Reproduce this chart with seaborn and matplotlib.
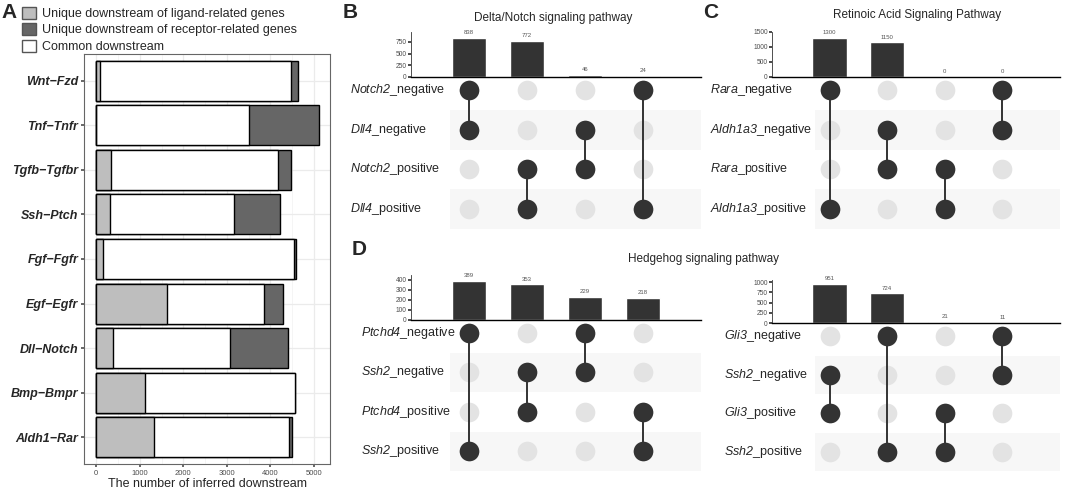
import matplotlib
matplotlib.use("Agg")
import matplotlib.pyplot as plt
import matplotlib.transforms as mtrans
from matplotlib.patches import Patch
import seaborn as sns
import pandas as pd

# ---- panel A: downstream genes per ligand-receptor pair ----
pairs = ["Wnt−Fzd", "Tnf−Tnfr", "Tgfb−Tgfbr", "Ssh−Ptch", "Fgf−Fgfr",
         "Egf−Egfr", "Dll−Notch", "Bmp−Bmpr", "Aldh1−Rar"]
ligand_only = [76, 0, 344, 328, 160, 1618, 389, 1115, 1336]
common = [4397, 3511, 3839, 2848, 4374, 2237, 2695, 3442, 3091]
receptor_only = [153, 1604, 290, 1038, 46, 427, 1313, 0, 77]

# ---- upset panels ----
notch_sets = ["Notch2_negative", "Dll4_negative", "Notch2_positive", "Dll4_positive"]
notch_members = [(0, 1), (2, 3), (1, 2), (0, 3)]
notch_counts = [838, 772, 46, 24]

ra_sets = ["Rara_negative", "Aldh1a3_negative", "Rara_positive", "Aldh1a3_positive"]
ra_members = [(0, 3), (1, 2), (2, 3), (0, 1)]
ra_counts = [1300, 1150, 0, 0]

hh_ptch_sets = ["Ptchd4_negative", "Ssh2_negative", "Ptchd4_positive", "Ssh2_positive"]
hh_ptch_members = [(0, 3), (1, 2), (0, 1), (2, 3)]
hh_ptch_counts = [389, 353, 229, 218]

hh_gli_sets = ["Gli3_negative", "Ssh2_negative", "Gli3_positive", "Ssh2_positive"]
hh_gli_members = [(1, 2), (0, 3), (2, 3), (0, 1)]
hh_gli_counts = [951, 724, 21, 11]

LIGHT = "#bebebe"
RECEP = "#666666"
DARK = "#333333"
W, H = 1065, 491

sns.set_theme(style="white")
plt.rcParams['font.family'] = ['Liberation Sans', 'DejaVu Sans']
plt.rcParams['mathtext.fontset'] = 'custom'
plt.rcParams['mathtext.it'] = 'Liberation Sans:italic'
plt.rcParams['mathtext.rm'] = 'Liberation Sans:italic'  # gene digits italic too

fig = plt.figure(figsize=(W / 100, H / 100), dpi=100)


def box(l, t, r, b):
    # pixel box -> figure fraction
    return [l / W, 1 - b / H, (r - l) / W, (b - t) / H]


# ---------------- A ----------------
df = pd.DataFrame({"pair": pairs, "ligand": ligand_only, "common": common, "receptor": receptor_only})
df["lig_end"] = df["ligand"]
df["com_end"] = df["ligand"] + df["common"]
df["total"] = df["com_end"] + df["receptor"]

axA = fig.add_axes(box(84, 54, 330, 464))
axA.set_axisbelow(True)
for v in range(0, 6000, 1000):
    axA.axvline(v, color="#ebebeb", lw=0.9, zorder=0)
for v in range(500, 6000, 1000):
    axA.axvline(v, color="#f4f4f4", lw=0.6, zorder=0)
for i in range(len(pairs)):
    axA.axhline(i, color="#ebebeb", lw=0.9, zorder=0)
for col, fill in [("total", RECEP), ("com_end", "white"), ("lig_end", LIGHT)]:
    sns.barplot(data=df, y="pair", x=col, order=pairs, color=fill, saturation=1,
                edgecolor="black", linewidth=1.0, width=0.9, errorbar=None, ax=axA)
axA.set_xlim(-280, 5370)
axA.set_ylim(len(pairs) - 0.4, -0.6)
axA.set_xticks(range(0, 6000, 1000))
axA.set_ylabel("")
axA.set_xlabel("The number of inferred downstream", fontsize=9, labelpad=1)
axA.tick_params(axis="x", labelsize=5.5, labelcolor="#4d4d4d", length=2.5, color="#555555", pad=1.5, bottom=True)
axA.tick_params(axis="y", labelsize=9, length=2.5, color="#555555", pad=1.5, left=True)
for lbl in axA.get_yticklabels():
    lbl.set_fontweight("bold")
    lbl.set_fontstyle("italic")
for s in axA.spines.values():
    s.set_color("#666666")
    s.set_linewidth(0.8)

handles = [Patch(facecolor=LIGHT, edgecolor="#555555", label="Unique downstream of ligand-related genes"),
           Patch(facecolor=RECEP, edgecolor="#555555", label="Unique downstream of receptor-related genes"),
           Patch(facecolor="white", edgecolor="#555555", label="Common downstream")]
fig.legend(handles=handles, loc="upper left", bbox_to_anchor=(19 / W, 1 - 4 / H), frameon=False,
           fontsize=9, handlelength=1.15, handleheight=1.15, handletextpad=0.5, labelspacing=0.25,
           borderaxespad=0, borderpad=0.2)
fig.text(1 / W, 1 - 3 / H, "A", fontsize=15, fontweight="bold", va="top", ha="left")


# ---------------- upset panels ----------------
def draw_upset(bar_px, mat_px, stripe_x0, label_x, sets, members, counts, yticks, ymax):
    l, t, r, b = bar_px
    axb = fig.add_axes(box(l, t, r, b))
    combos = ["c%d" % i for i in range(len(counts))]
    sns.barplot(x=combos, y=counts, color=DARK, saturation=1, width=0.6, errorbar=None, ax=axb)
    axb.bar_label(axb.containers[0], fontsize=4.3, color="#555555", padding=2)
    axb.set_xlim(-1, 4)
    axb.set_ylim(0, ymax)
    axb.set_yticks(yticks)
    axb.set_xticks([])
    axb.set_xlabel("")
    axb.set_ylabel("")
    axb.tick_params(axis="y", labelsize=4.8, labelcolor="#4d4d4d", length=2, color="#333333", pad=1, left=True)
    for side in ["top", "right"]:
        axb.spines[side].set_visible(False)
    axb.spines["left"].set_color("#333333")
    axb.spines["left"].set_linewidth(0.6)
    axb.spines["bottom"].set_color("black")
    axb.spines["bottom"].set_linewidth(1.0)

    mt, mb = mat_px
    axm = fig.add_axes(box(l, mt, r, mb))
    n = len(sets)
    for i in range(1, n, 2):
        axm.axhspan(i - 0.5, i + 0.5, xmin=(stripe_x0 + 1) / 5, xmax=1, color="#f7f7f7", lw=0, zorder=0)
    grid = pd.DataFrame([(c, k) for c in range(len(counts)) for k in range(n)], columns=["col", "row"])
    on = pd.DataFrame([(c, k) for c, m in enumerate(members) for k in m], columns=["col", "row"])
    sns.scatterplot(data=grid, x="col", y="row", s=200, color="#e3e3e3", linewidth=0, ax=axm, zorder=2)
    for c, m in enumerate(members):
        axm.plot([c, c], [min(m), max(m)], color=DARK, lw=1.4, zorder=3)
    sns.scatterplot(data=on, x="col", y="row", s=200, color=DARK, linewidth=0, ax=axm, zorder=4)
    axm.set_xlim(-1, 4)
    axm.set_ylim(n - 0.5, -0.5)
    axm.axis("off")
    trans = mtrans.blended_transform_factory(fig.transFigure, axm.transData)
    for k, lab in enumerate(sets):
        gene, state = lab.split("_", 1)
        axm.text(label_x / W, k, r"$\mathit{%s}$_%s" % (gene, state), transform=trans,
                 ha="left", va="center", fontsize=9)


# B
draw_upset((411, 32, 701, 77), (70, 229), -0.33, 350, notch_sets, notch_members, notch_counts,
           [0, 250, 500, 750], 964)
fig.text(553 / W, 1 - 18 / H, "Delta/Notch signaling pathway", fontsize=8.5, ha="center", va="center")
fig.text(343 / W, 1 - 3 / H, "B", fontsize=15, fontweight="bold", va="top", ha="left")

# C
draw_upset((772, 32, 1060, 77), (70, 229), -0.25, 710, ra_sets, ra_members, ra_counts,
           [0, 500, 1000, 1500], 1500)
fig.text(917 / W, 1 - 15 / H, "Retinoic Acid Signaling Pathway", fontsize=8.5, ha="center", va="center")
fig.text(703 / W, 1 - 3 / H, "C", fontsize=15, fontweight="bold", va="top", ha="left")

# D
draw_upset((411, 275, 701, 320), (313, 471), -0.33, 361, hh_ptch_sets, hh_ptch_members, hh_ptch_counts,
           [0, 100, 200, 300, 400], 445)
draw_upset((772, 280, 1060, 323), (317, 471), -0.25, 724, hh_gli_sets, hh_gli_members, hh_gli_counts,
           [0, 250, 500, 750, 1000], 1050)
fig.text(704 / W, 1 - 259 / H, "Hedgehog signaling pathway", fontsize=8.5, ha="center", va="center")
fig.text(352 / W, 1 - 240 / H, "D", fontsize=15, fontweight="bold", va="top", ha="left")

fig.savefig("out.png", dpi=100)
